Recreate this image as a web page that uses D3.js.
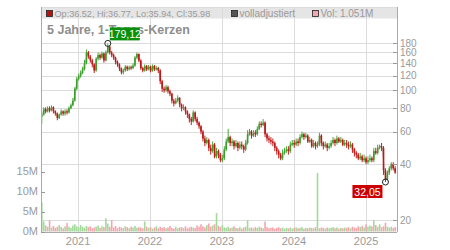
<!DOCTYPE html>
<html>
<head>
<meta charset="utf-8">
<script src="https://cdn.jsdelivr.net/npm/d3@7"></script>
<style>
  body { margin: 0; background: #fff; }
  svg { display: block; font-family: "Liberation Sans", Arial, sans-serif; }
</style>
</head>
<body>
<div id="chart"></div>
<script>
// one candle every ~10 days; open = previous close
const closes = [
  74, 79, 77, 80, 78, 81, 77, 75, 71, 74,
  77, 75, 77, 76, 80, 83, 88, 102, 115, 119,
  124, 130, 140, 160, 152, 145, 138, 128, 148, 155,
  150, 158, 145, 160, 172, 160, 155, 150, 142, 138,
  131, 125, 128, 134, 130, 133, 132, 136, 150, 157,
  145, 132, 128, 135, 130, 134, 128, 135, 130, 132,
  128, 112, 102, 100, 104, 99, 96, 88, 85, 88,
  91, 84, 80, 81, 77, 74, 70, 68, 76, 70,
  67, 64, 60, 55, 52, 54, 49, 47, 51, 44,
  47, 45, 42, 43, 48, 53, 56, 52, 53, 50,
  52, 49, 51, 50, 48, 52, 58, 60, 57, 59,
  58, 62, 66, 65, 67, 58, 55, 54, 53, 52,
  49, 47, 45, 43, 46, 47, 48, 47, 51, 52,
  51, 53, 52, 56, 58, 56, 57, 53, 54, 50,
  52, 50, 51, 57, 52, 50, 51, 49, 50, 52,
  54, 52, 55, 53, 54, 51, 52, 51, 50, 51,
  48, 46, 45, 43, 44, 42, 43, 41, 42, 43,
  42, 47, 46, 49, 50, 49, 37, 33, 36, 38,
  40, 38, 36
]
const highs = [
  77, 81, 81, 82, 82, 83, 82, 78, 76, 75,
  79, 78, 79, 79, 82, 85, 91, 104, 118, 123,
  128, 134, 146, 166, 163, 155, 148, 140, 151, 160,
  158, 162, 160, 164, 179.12, 174, 163, 158, 152, 145,
  140, 133, 131, 137, 136, 136, 136, 140, 153, 160,
  158, 147, 134, 138, 137, 137, 136, 138, 137, 135,
  134, 130, 114, 105, 107, 106, 101, 97, 90, 91,
  94, 92, 85, 84, 82, 78, 75, 72, 78, 77,
  72, 68, 65, 61, 57, 56, 55, 51, 53, 52,
  49, 48, 46, 45, 50, 55, 62, 57, 55, 54,
  54, 53, 53, 53, 51, 54, 61, 62, 61, 61,
  61, 64, 68, 68, 70, 68, 59, 57, 56, 55,
  53, 50, 48, 46, 48, 49, 50, 50, 53, 54,
  54, 55, 55, 58, 60, 59, 59, 58, 56, 55,
  54, 53, 53, 59, 58, 53, 53, 52, 52, 54,
  56, 55, 57, 56, 56, 55, 54, 54, 53, 53,
  52, 49, 47, 46, 46, 45, 45, 44, 44, 45,
  44, 49, 49, 51, 51, 52, 50, 38, 37, 39,
  41, 41, 39
]
const lows = [
  66, 73, 75, 76, 76, 77, 75, 73, 69, 70,
  73, 73, 73, 74, 75, 79, 82, 87, 100, 113,
  117, 122, 128, 138, 148, 141, 133, 124, 126, 145,
  146, 148, 141, 143, 158, 156, 151, 146, 138, 134,
  127, 122, 122, 126, 127, 128, 129, 130, 134, 147,
  142, 129, 125, 126, 127, 128, 125, 126, 127, 128,
  124, 108, 98, 97, 98, 96, 93, 85, 82, 84,
  86, 81, 77, 78, 74, 71, 67, 65, 67, 68,
  65, 62, 58, 53, 50, 51, 47, 45, 46, 43,
  43, 43, 41, 41, 42, 47, 52, 50, 50, 48,
  49, 47, 48, 48, 46, 47, 51, 57, 55, 56,
  56, 57, 61, 63, 64, 56, 53, 52, 51, 50,
  47, 45, 43, 42, 42, 45, 46, 45, 46, 50,
  49, 50, 50, 51, 55, 54, 55, 52, 52, 49,
  49, 48, 49, 50, 50, 48, 49, 47, 48, 49,
  51, 50, 51, 52, 52, 50, 50, 49, 48, 49,
  46, 44, 43, 42, 42, 41, 41, 40, 40, 41,
  41, 41, 45, 45, 48, 47, 35, 32.05, 33, 35,
  37, 37, 35.5
]
const firstOpen = 72

// volume in millions, same candles
const volumes = [
  7.3, 2.5, 1.5, 1.2, 2.8, 1.0, 1.4, 0.9, 1.2, 1.6,
  1.1, 0.8, 1.3, 2.1, 1.2, 0.9, 1.5, 1.8, 1.3, 1.0,
  1.6, 1.2, 0.9, 1.4, 1.1, 1.3, 0.8, 1.0, 1.2, 1.5,
  0.9, 1.3, 1.1, 3.3, 2.0, 1.2, 2.9, 1.0, 1.4, 0.8,
  1.2, 1.0, 0.9, 1.3, 1.1, 0.8, 1.2, 1.0, 1.4, 0.9,
  1.1, 1.0, 0.8, 2.5, 1.2, 0.9, 1.1, 0.7, 1.0, 1.3,
  0.8, 1.2, 0.9, 1.1, 0.8, 1.0, 1.4, 0.9, 0.7, 1.2,
  0.8, 1.0, 1.1, 0.9, 1.3, 0.8, 1.0, 1.2, 1.0, 0.9,
  1.5, 1.2, 1.8, 1.3, 1.0, 1.6, 2.0, 1.2, 1.5, 1.8,
  4.6, 1.4, 1.1, 1.6, 1.0, 0.9, 1.2, 0.8, 1.0, 1.3,
  0.9, 0.8, 1.1, 0.7, 1.0, 1.2, 2.8, 0.9, 1.0, 0.8,
  1.1, 0.9, 1.2, 1.0, 0.8, 2.5, 1.1, 0.8, 0.9, 1.0,
  0.7, 0.9, 1.1, 0.8, 1.0, 0.7, 0.9, 0.8, 1.0, 0.7,
  0.9, 1.0, 0.8, 0.9, 1.1, 0.7, 0.9, 0.8, 1.0, 0.9,
  0.8, 1.1, 14.6, 0.8, 1.0, 0.9, 0.7, 1.0, 0.8, 0.9,
  1.1, 0.8, 1.0, 0.7, 0.9, 0.8, 1.0, 0.9, 1.1, 0.8,
  1.2, 1.0, 0.9, 1.3, 1.1, 1.4, 1.0, 1.8, 1.2, 1.5,
  1.3, 2.8, 1.6, 1.2, 1.8, 1.1, 1.3, 2.2, 1.2, 1.0,
  1.2, 0.9, 1.1
]

const priceTicks = [20, 40, 60, 80, 100, 120, 140, 160, 180]
const volTicks = [0, 5, 10, 15]
const yearTicks = [2021, 2022, 2023, 2024, 2025]

const title = "5 Jahre, 1-Tages-Kerzen"
const legendLabels = ["Op:36.52, Hi:36.77, Lo:35.94, Cl:35.98", "volladjustiert", "Vol: 1.051M"]
const hiMark = { index: 34, value: 179.12, label: "179,12" }
const loMark = { index: 177, value: 32.05, label: "32,05" }

const W = 450, H = 250
const pL = 41, pR = 397, pT = 7, pB = 232

const svg = d3.select("#chart").append("svg")
    .attr("width", W).attr("height", H)

const start = new Date(2020, 6, 1)
const dates = closes.map((c, i) => new Date(start.getTime() + i * 9.85 * 864e5))

const x = d3.scaleTime()
    .domain([new Date(2020, 5, 27), new Date(2025, 5, 7)])
    .range([pL, pR])
const y = d3.scaleLog().domain([20, 180]).range([220, 43])
const yv = d3.scaleLinear().domain([0, 15]).range([231.5, 171.5])

const grid = "#dcdcdc", txt = "#9a9a9a"

// header band
svg.append("rect").attr("x", pL).attr("y", pT + 1).attr("width", pR - pL).attr("height", 10.5)
    .attr("fill", "#e5e5e5")
svg.append("line").attr("x1", pL).attr("x2", pR).attr("y1", pT + 0.5).attr("y2", pT + 0.5)
    .attr("stroke", grid)

// gridlines
svg.append("g").selectAll("line").data(priceTicks).join("line")
    .attr("x1", pL).attr("x2", pR)
    .attr("y1", d => Math.round(y(d)) + 0.5).attr("y2", d => Math.round(y(d)) + 0.5)
    .attr("stroke", grid)
svg.append("g").selectAll("line").data(yearTicks).join("line")
    .attr("x1", d => Math.round(x(new Date(d, 0, 1))) + 0.5)
    .attr("x2", d => Math.round(x(new Date(d, 0, 1))) + 0.5)
    .attr("y1", pT).attr("y2", pB)
    .attr("stroke", grid)

// legend in header
const legX = [46, 231, 312]
const legColor = ["#b51212", "#555", "#f2a7b0"]
const legSize = [9.1, 10, 10]
const leg = svg.append("g").selectAll("g").data(legendLabels).join("g")
leg.append("rect").attr("x", (d, i) => legX[i] + 0.5).attr("y", 10.5).attr("width", 6).attr("height", 6)
    .attr("fill", (d, i) => legColor[i]).attr("stroke", "#222").attr("stroke-width", 0.8)
leg.append("text").attr("x", (d, i) => legX[i] + 8.5).attr("y", 17.2)
    .attr("font-size", (d, i) => legSize[i]).attr("fill", txt).text(d => d)

// title
svg.append("text").attr("x", 47).attr("y", 34)
    .attr("font-size", 12.5).attr("font-weight", "bold").attr("fill", "#8e8e8e").text(title)

// volume bars
const bw = 1.6
const opens = closes.map((c, i) => i === 0 ? firstOpen : closes[i - 1])
const up = i => closes[i] >= opens[i]
svg.append("g").selectAll("rect").data(volumes).join("rect")
    .attr("x", (d, i) => x(dates[i]) - bw / 2)
    .attr("y", d => yv(d))
    .attr("width", bw)
    .attr("height", d => yv(0) - yv(d))
    .attr("fill", (d, i) => up(i) ? "#a3d99b" : "#f3a6ae")

// gray shadow line through closes
svg.append("path").datum(closes)
    .attr("d", d3.line().x((d, i) => x(dates[i]) + 0.8).y(d => y(d)))
    .attr("fill", "none").attr("stroke", "#bdbdbd").attr("stroke-width", 1)

// wicks
svg.append("g").selectAll("line").data(closes).join("line")
    .attr("x1", (d, i) => x(dates[i])).attr("x2", (d, i) => x(dates[i]))
    .attr("y1", (d, i) => y(highs[i])).attr("y2", (d, i) => y(lows[i]))
    .attr("stroke", (d, i) => up(i) ? "#4aa83a" : "#c42020").attr("stroke-width", 1)

// candle bodies
svg.append("g").selectAll("rect").data(closes).join("rect")
    .attr("x", (d, i) => x(dates[i]) - bw / 2)
    .attr("y", (d, i) => Math.min(y(d), y(opens[i])))
    .attr("width", bw)
    .attr("height", (d, i) => Math.max(1, Math.abs(y(d) - y(opens[i]))))
    .attr("fill", (d, i) => up(i) ? "#3a9e2a" : "#c01515")

// axes
svg.append("line").attr("x1", pR + 0.5).attr("x2", pR + 0.5).attr("y1", pT).attr("y2", pB)
    .attr("stroke", "#aaa")
svg.append("line").attr("x1", pL + 0.5).attr("x2", pL + 0.5).attr("y1", pT).attr("y2", pB)
    .attr("stroke", "#aaa")
svg.append("line").attr("x1", pL).attr("x2", pR).attr("y1", pB + 0.5).attr("y2", pB + 0.5)
    .attr("stroke", "#aaa")

const pAx = svg.append("g").selectAll("g").data(priceTicks).join("g")
pAx.append("line").attr("x1", pR - 4).attr("x2", pR)
    .attr("y1", d => Math.round(y(d)) + 0.5).attr("y2", d => Math.round(y(d)) + 0.5)
    .attr("stroke", "#999")
pAx.append("text").attr("x", pR + 3).attr("y", d => y(d)).attr("dy", "0.36em")
    .attr("font-size", 10).attr("fill", txt).text(d => d)

const vAx = svg.append("g").selectAll("g").data(volTicks).join("g")
vAx.append("line").attr("x1", pL).attr("x2", pL + 4)
    .attr("y1", d => Math.round(yv(d)) + 0.5).attr("y2", d => Math.round(yv(d)) + 0.5)
    .attr("stroke", "#999")
vAx.append("text").attr("x", pL - 3).attr("y", d => yv(d)).attr("dy", "0.36em")
    .attr("text-anchor", "end").attr("font-size", 11).attr("fill", txt).text(d => d + "M")

svg.append("g").selectAll("text").data(yearTicks).join("text")
    .attr("x", d => x(new Date(d, 0, 1))).attr("y", 245)
    .attr("text-anchor", "middle").attr("font-size", 11).attr("fill", txt).text(d => d)

// hi / lo markers
function marker(m, color, above) {
    const mx = x(dates[m.index]), my = y(m.value)
    svg.append("circle").attr("cx", mx).attr("cy", my).attr("r", 3)
        .attr("fill", "none").attr("stroke", "#222").attr("stroke-width", 1)
    const w = 30
    const bx = above ? mx + 2 : mx - 3 - w
    const by = above ? my - 16 : my + 3
    svg.append("rect").attr("x", bx).attr("y", by).attr("width", w).attr("height", 13)
        .attr("fill", color)
    svg.append("text").attr("x", bx + w / 2).attr("y", by + 10.5).attr("text-anchor", "middle")
        .attr("font-size", 10.5).attr("fill", "#fff").text(m.label)
}
marker(hiMark, "#0a8f0a", true)
marker(loMark, "#cc0000", false)
</script>
</body>
</html>
